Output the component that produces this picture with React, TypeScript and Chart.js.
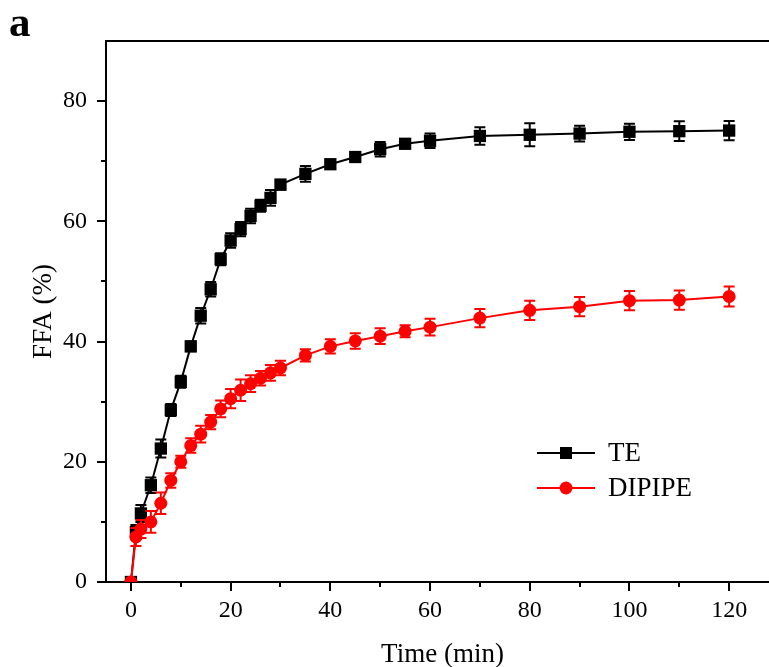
import React, { useEffect, useRef } from 'react';
import { Chart, registerables } from 'chart.js';

Chart.register(...registerables);

// ---- data ----
const times = [0, 1, 2, 4, 6, 8, 10, 12, 14, 16, 18, 20, 22, 24, 26, 28, 30, 35, 40, 45, 50, 55, 60, 70, 80, 90, 100, 110, 120];
const teValues = [0, 8.3, 11.4, 16.1, 22.2, 28.6, 33.3, 39.2, 44.3, 48.7, 53.7, 56.8, 58.7, 60.9, 62.6, 63.9, 66.1, 67.9, 69.5, 70.7, 72.0, 72.9, 73.4, 74.2, 74.4, 74.6, 74.9, 75.0, 75.1];
const teErrors = [0, 1.2, 1.4, 1.3, 1.5, 1.0, 1.0, 0.8, 1.3, 1.2, 1.0, 1.2, 1.2, 1.2, 1.0, 1.3, 0.8, 1.3, 0.6, 0.6, 1.2, 0.5, 1.2, 1.45, 1.9, 1.3, 1.35, 1.65, 1.6];
const dipipeValues = [0, 7.5, 8.8, 10.0, 13.1, 16.9, 20.0, 22.7, 24.6, 26.6, 28.8, 30.5, 31.9, 33.0, 33.9, 34.8, 35.6, 37.7, 39.2, 40.1, 40.9, 41.7, 42.4, 43.9, 45.2, 45.8, 46.8, 46.9, 47.5];
const dipipeErrors = [0, 1.5, 1.5, 1.8, 1.8, 1.2, 1.0, 1.2, 1.4, 1.2, 1.4, 1.6, 1.8, 1.4, 1.2, 1.3, 1.2, 1.0, 1.2, 1.3, 1.3, 1.0, 1.4, 1.5, 1.6, 1.6, 1.6, 1.6, 1.65];
const seriesLabels = ['TE', 'DIPIPE'];
const xMajorTicks = [0, 20, 40, 60, 80, 100, 120];
const xMinorTicks = [10, 30, 50, 70, 90, 110];
const yMajorTicks = [0, 20, 40, 60, 80];
const yMinorTicks = [10, 30, 50, 70];
const panelLabel = 'a';
const xTitle = 'Time (min)';
const yTitle = 'FFA (%)';

const FONT = "'Liberation Serif', 'Times New Roman', serif";

const errorBarPlugin = {
  id: 'errorBars',
  afterDatasetDraw(chart: any, args: any) {
    const ds = chart.data.datasets[args.index];
    const { ctx, scales } = chart;
    const x = scales.x;
    const y = scales.y;
    ctx.save();
    ctx.strokeStyle = ds.borderColor;
    ctx.lineWidth = 2;
    ds.data.forEach((pt: any, j: number) => {
      const err = ds.errors[j];
      if (!err) return;
      const px = x.getPixelForValue(pt.x);
      const top = y.getPixelForValue(pt.y + err);
      const bot = y.getPixelForValue(pt.y - err);
      ctx.beginPath();
      ctx.moveTo(px, top);
      ctx.lineTo(px, bot);
      ctx.moveTo(px - 5.5, top);
      ctx.lineTo(px + 5.5, top);
      ctx.moveTo(px - 5.5, bot);
      ctx.lineTo(px + 5.5, bot);
      ctx.stroke();
    });
    ctx.restore();
  },
};

const framePlugin = {
  id: 'frame',
  afterDraw(chart: any) {
    const { ctx, chartArea, scales } = chart;
    const x = scales.x;
    const y = scales.y;
    ctx.save();
    ctx.strokeStyle = '#000';
    ctx.lineWidth = 2;
    // top border
    ctx.beginPath();
    ctx.moveTo(chartArea.left - 1, chartArea.top);
    ctx.lineTo(chartArea.right, chartArea.top);
    ctx.stroke();
    // x ticks
    ctx.beginPath();
    xMajorTicks.forEach((v) => {
      const px = Math.round(x.getPixelForValue(v));
      ctx.moveTo(px, chartArea.bottom);
      ctx.lineTo(px, chartArea.bottom + 9);
    });
    xMinorTicks.forEach((v) => {
      const px = Math.round(x.getPixelForValue(v));
      ctx.moveTo(px, chartArea.bottom);
      ctx.lineTo(px, chartArea.bottom + 5);
    });
    yMajorTicks.forEach((v) => {
      const py = Math.round(y.getPixelForValue(v));
      ctx.moveTo(chartArea.left, py);
      ctx.lineTo(chartArea.left - 9, py);
    });
    yMinorTicks.forEach((v) => {
      const py = Math.round(y.getPixelForValue(v));
      ctx.moveTo(chartArea.left, py);
      ctx.lineTo(chartArea.left - 5, py);
    });
    ctx.stroke();

    // legend
    chart.data.datasets.forEach((ds: any, i: number) => {
      const ly = 453 + i * 35;
      ctx.strokeStyle = ds.borderColor;
      ctx.fillStyle = ds.borderColor;
      ctx.lineWidth = 2;
      ctx.beginPath();
      ctx.moveTo(537, ly);
      ctx.lineTo(595, ly);
      ctx.stroke();
      if (ds.pointStyle === 'rect') {
        ctx.fillRect(560, ly - 6, 12, 12);
      } else {
        ctx.beginPath();
        ctx.arc(566, ly, 6.5, 0, Math.PI * 2);
        ctx.fill();
      }
      ctx.fillStyle = '#000';
      ctx.font = `27px ${FONT}`;
      ctx.textBaseline = 'middle';
      ctx.textAlign = 'left';
      ctx.fillText(ds.label, 608, ly + 1);
    });

    // panel label
    ctx.fillStyle = '#000';
    ctx.font = `bold 43px ${FONT}`;
    ctx.textBaseline = 'alphabetic';
    ctx.textAlign = 'left';
    ctx.fillText(panelLabel, 9, 36);
    ctx.restore();
  },
};

export default function App() {
  const ref = useRef<HTMLCanvasElement>(null);
  useEffect(() => {
    if (!ref.current) return;
    const chart = new Chart(ref.current, {
      type: 'line',
      data: {
        datasets: [
          {
            label: seriesLabels[0],
            data: times.map((t, i) => ({ x: t, y: teValues[i] })),
            errors: teErrors,
            borderColor: '#000000',
            backgroundColor: '#000000',
            borderWidth: 2,
            pointStyle: 'rect',
            pointRadius: 8.7,
            pointBorderWidth: 0,
            order: 1,
          } as any,
          {
            label: seriesLabels[1],
            data: times.map((t, i) => ({ x: t, y: dipipeValues[i] })),
            errors: dipipeErrors,
            borderColor: '#ff0000',
            backgroundColor: '#ff0000',
            borderWidth: 2,
            pointStyle: 'circle',
            pointRadius: 6.5,
            pointBorderWidth: 0,
            order: 0,
          } as any,
        ],
      },
      options: {
        animation: false,
        responsive: false,
        devicePixelRatio: 1,
        layout: { padding: { left: 0, right: 21, top: 41, bottom: 0 } },
        plugins: {
          legend: { display: false },
          tooltip: { enabled: false },
        },
        scales: {
          x: {
            type: 'linear',
            min: -5,
            max: 130,
            afterBuildTicks: (scale: any) => {
              scale.ticks = xMajorTicks.map((v) => ({ value: v }));
            },
            afterFit: (scale: any) => {
              scale.height = 85;
            },
            grid: { display: false, drawTicks: false },
            border: { display: true, color: '#000', width: 2 },
            ticks: {
              color: '#000',
              font: { family: FONT, size: 24 },
              padding: 14,
              maxRotation: 0,
              autoSkip: false,
            },
            title: {
              display: true,
              text: xTitle,
              color: '#000',
              font: { family: FONT, size: 27 },
              padding: { top: 0, bottom: -4 },
            },
          },
          y: {
            type: 'linear',
            min: 0,
            max: 90,
            afterBuildTicks: (scale: any) => {
              scale.ticks = yMajorTicks.map((v) => ({ value: v }));
            },
            afterFit: (scale: any) => {
              scale.width = 106;
            },
            grid: { display: false, drawTicks: false },
            border: { display: true, color: '#000', width: 2 },
            ticks: {
              color: '#000',
              font: { family: FONT, size: 24 },
              padding: 19,
              autoSkip: false,
            },
            title: {
              display: true,
              text: yTitle,
              color: '#000',
              font: { family: FONT, size: 27 },
              padding: { top: 28, bottom: 0 },
            },
          },
        },
      },
      plugins: [errorBarPlugin, framePlugin],
    } as any);
    return () => chart.destroy();
  }, []);

  return (
    <div style={{ position: 'fixed', left: 0, top: 0, width: 769, height: 667, overflow: 'hidden', background: '#fff' }}>
      <canvas ref={ref} width={800} height={667} style={{ width: 800, height: 667, display: 'block' }} />
    </div>
  );
}
